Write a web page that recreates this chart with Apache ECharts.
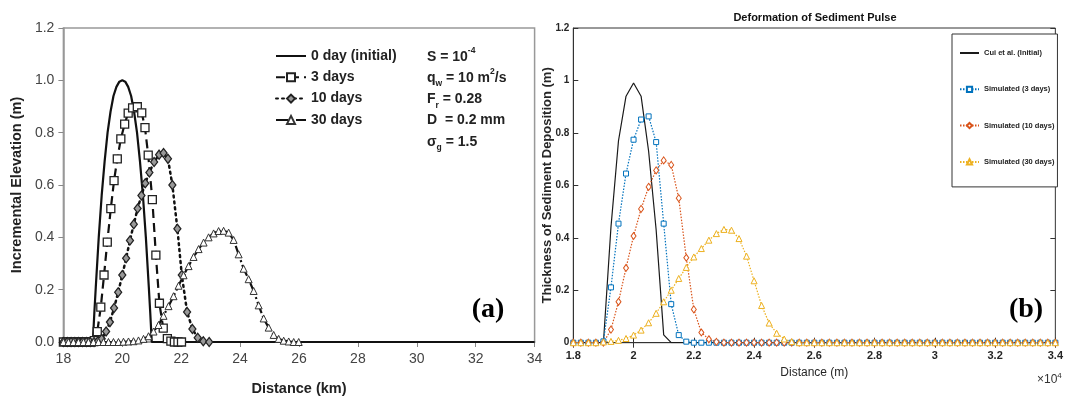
<!DOCTYPE html>
<html>
<head>
<meta charset="utf-8">
<script src="https://cdn.jsdelivr.net/npm/echarts@6/dist/echarts.min.js"></script>
<style>
html, body { margin: 0; padding: 0; background: #fff; }
#main { width: 1066px; height: 401px; }
</style>
</head>
<body>
<div id="main"></div>
<script>
// panel (a): published curves, distance in km
var day0Km = [18, 19, 19.05, 19.1, 19.2, 19.3, 19.4, 19.5, 19.6, 19.7, 19.8, 19.9, 20, 20.1, 20.2, 20.3, 20.4, 20.5, 20.6, 20.7, 20.8, 20.9, 20.95, 21, 34];
var day0Elev = [0, 0, 0.11, 0.21, 0.40, 0.56, 0.69, 0.80, 0.88, 0.94, 0.975, 0.995, 1.0, 0.995, 0.975, 0.94, 0.88, 0.80, 0.69, 0.56, 0.40, 0.21, 0.11, 0, 0];

var day3Km = [18, 18.12, 18.24, 18.36, 18.48, 18.6, 18.72, 18.84, 18.96, 19.05, 19.15, 19.27, 19.38, 19.49, 19.61, 19.72, 19.83, 19.95, 20.08, 20.2, 20.35, 20.51, 20.66, 20.77, 20.88, 21.02, 21.14, 21.26, 21.39, 21.53, 21.65, 21.77, 21.89, 22.01];
var day3Elev = [0, 0, 0, 0, 0, 0, 0, 0, 0, 0.005, 0.04, 0.133, 0.256, 0.382, 0.51, 0.617, 0.70, 0.776, 0.833, 0.875, 0.895, 0.899, 0.876, 0.819, 0.714, 0.544, 0.332, 0.148, 0.053, 0.013, 0.003, 0, 0, 0];

var day10Km = [18, 18.13, 18.26, 18.39, 18.52, 18.65, 18.78, 18.91, 19.04, 19.17, 19.3, 19.45, 19.58, 19.72, 19.86, 20, 20.13, 20.26, 20.39, 20.52, 20.65, 20.78, 20.92, 21.08, 21.25, 21.4, 21.55, 21.7, 21.87, 22.02, 22.2, 22.38, 22.56, 22.75, 22.95];
var day10Elev = [0, 0, 0, 0, 0, 0, 0, 0, 0, 0.003, 0.012, 0.04, 0.076, 0.13, 0.19, 0.256, 0.32, 0.388, 0.45, 0.51, 0.56, 0.607, 0.648, 0.688, 0.716, 0.722, 0.70, 0.60, 0.433, 0.256, 0.115, 0.05, 0.016, 0.003, 0];

var day30Km = [18, 18.17, 18.34, 18.51, 18.68, 18.85, 19.02, 19.19, 19.36, 19.53, 19.7, 19.87, 20.04, 20.21, 20.38, 20.55, 20.72, 20.89, 21.06, 21.23, 21.4, 21.57, 21.74, 21.91, 22.08, 22.25, 22.42, 22.59, 22.76, 22.93, 23.1, 23.27, 23.44, 23.61, 23.78, 23.95, 24.12, 24.29, 24.46, 24.63, 24.8, 24.97, 25.14, 25.31, 25.48, 25.65, 25.82, 25.99];
var day30Elev = [0, 0, 0, 0, 0, 0, 0, 0, 0, 0, 0, 0, 0.001, 0.002, 0.003, 0.006, 0.012, 0.022, 0.04, 0.065, 0.1, 0.137, 0.175, 0.215, 0.255, 0.29, 0.325, 0.355, 0.38, 0.4, 0.415, 0.424, 0.425, 0.418, 0.39, 0.335, 0.28, 0.24, 0.195, 0.14, 0.09, 0.055, 0.027, 0.012, 0.005, 0.002, 0, 0];

// panel (b): simulation, distance in m
var distM = [18000, 18250, 18500, 18750, 19000, 19250, 19500, 19750, 20000, 20250, 20500, 20750, 21000, 21250, 21500, 21750,
    22000, 22250, 22500, 22750, 23000, 23250, 23500, 23750, 24000, 24250, 24500, 24750, 25000, 25250, 25500, 25750,
    26000, 26250, 26500, 26750, 27000, 27250, 27500, 27750, 28000, 28250, 28500, 28750, 29000, 29250, 29500, 29750,
    30000, 30250, 30500, 30750, 31000, 31250, 31500, 31750, 32000, 32250, 32500, 32750, 33000, 33250, 33500, 33750, 34000];
var cuiInit = [0, 0, 0, 0, 0, 0.44, 0.77, 0.94, 0.99, 0.94, 0.73, 0.43, 0.03,
    0, 0, 0, 0, 0, 0, 0, 0, 0, 0,
    0, 0, 0, 0, 0, 0, 0, 0, 0, 0,
    0, 0, 0, 0, 0, 0, 0, 0, 0, 0,
    0, 0, 0, 0, 0, 0, 0, 0, 0, 0,
    0, 0, 0, 0, 0, 0, 0, 0, 0, 0,
    0, 0];
var sim3 = [0, 0, 0, 0, 0.005, 0.211, 0.454, 0.645, 0.774, 0.851, 0.863, 0.765, 0.454, 0.147, 0.029, 0.004,
    0, 0, 0, 0, 0, 0, 0, 0, 0, 0,
    0, 0, 0, 0, 0, 0, 0, 0, 0, 0,
    0, 0, 0, 0, 0, 0, 0, 0, 0, 0,
    0, 0, 0, 0, 0, 0, 0, 0, 0, 0,
    0, 0, 0, 0, 0, 0, 0, 0, 0];
var sim10 = [0, 0, 0, 0, 0, 0.05, 0.156, 0.285, 0.407, 0.51, 0.594, 0.657, 0.695, 0.678, 0.551, 0.324, 0.127, 0.039, 0.013, 0.003,
    0, 0, 0, 0, 0, 0, 0, 0, 0, 0,
    0, 0, 0, 0, 0, 0, 0, 0, 0, 0,
    0, 0, 0, 0, 0, 0, 0, 0, 0, 0,
    0, 0, 0, 0, 0, 0, 0, 0, 0, 0,
    0, 0, 0, 0, 0];
var sim30 = [0, 0, 0, 0, 0.003, 0.005, 0.009, 0.016, 0.029, 0.048, 0.076, 0.112, 0.156, 0.2, 0.245, 0.287, 0.327, 0.359, 0.391, 0.416,
    0.432, 0.429, 0.397, 0.33, 0.236, 0.142, 0.075, 0.036, 0.014, 0.004,
    0, 0, 0, 0, 0, 0, 0, 0, 0, 0,
    0, 0, 0, 0, 0, 0, 0, 0, 0, 0,
    0, 0, 0, 0, 0, 0, 0, 0, 0, 0,
    0, 0, 0, 0, 0];

var sans = '"Liberation Sans", Arial, Helvetica, sans-serif';
var serif = '"Liberation Serif", "Times New Roman", serif';

function pairs(xs, ys) {
    return xs.map(function (x, i) { return [x, ys[i]]; });
}

var chart = echarts.init(document.getElementById('main'), null, {renderer: 'canvas'});

var leftName = {fontFamily: sans, fontWeight: 'bold', fontSize: 14.5, color: '#222'};
var rightTicks = {show: true, inside: true, length: 5, lineStyle: {color: '#333'}};
var noSymbol = {color: 'rgba(0,0,0,0)', borderWidth: 0, opacity: 0};

var option = {
    animation: false,
    backgroundColor: '#fff',
    grid: [
        {left: 63.4, right: 531.4, top: 28, bottom: 57, show: true, borderColor: '#999', borderWidth: 1.5},
        {left: 573.3, right: 7, top: 28, bottom: 58.3, show: true, borderColor: '#333', borderWidth: 1}
    ],
    xAxis: [
        {
            gridIndex: 0, type: 'value', min: 18, max: 34, interval: 2,
            axisLine: {lineStyle: {color: '#999', width: 1.5}},
            axisTick: {length: 5, lineStyle: {color: '#888'}},
            splitLine: {show: false},
            axisLabel: {margin: 10, fontSize: 14, color: '#444', fontFamily: sans},
            name: 'Distance (km)', nameLocation: 'middle', nameGap: 39, nameMoveOverlap: false, nameTextStyle: leftName
        },
        {
            gridIndex: 1, type: 'value', min: 18000, max: 34000, interval: 2000,
            axisLine: {lineStyle: {color: '#333'}},
            axisTick: rightTicks,
            splitLine: {show: false},
            axisLabel: {
                margin: 8, fontSize: 11, fontWeight: 'bold', color: '#262626', fontFamily: sans,
                formatter: function (v) { return String(v / 10000); }
            },
            name: 'Distance (m)', nameLocation: 'middle', nameGap: 24, nameMoveOverlap: false,
            nameTextStyle: {fontFamily: sans, fontSize: 12, color: '#262626'}
        },
        {
            gridIndex: 1, type: 'value', position: 'top', min: 18000, max: 34000, interval: 2000,
            axisLine: {show: false}, axisTick: rightTicks, axisLabel: {show: false}, splitLine: {show: false}
        }
    ],
    yAxis: [
        {
            gridIndex: 0, type: 'value', min: 0, max: 1.2, interval: 0.2,
            axisLine: {show: true, lineStyle: {color: '#999', width: 1.5}},
            axisTick: {show: true, length: 5, lineStyle: {color: '#888'}},
            splitLine: {show: false},
            axisLabel: {margin: 9, fontSize: 14, color: '#444', fontFamily: sans,
                formatter: function (v) { return v.toFixed(1); }},
            name: 'Incremental Elevation (m)', nameLocation: 'middle', nameGap: 39, nameMoveOverlap: false, nameTextStyle: leftName
        },
        {
            gridIndex: 1, type: 'value', min: 0, max: 1.2, interval: 0.2,
            axisLine: {show: true, lineStyle: {color: '#333'}},
            axisTick: rightTicks,
            splitLine: {show: false},
            axisLabel: {margin: 4, fontSize: 10, fontWeight: 'bold', color: '#262626', fontFamily: sans},
            name: 'Thickness of Sediment Deposition (m)', nameLocation: 'middle', nameGap: 19, nameMoveOverlap: false,
            nameTextStyle: {fontFamily: sans, fontWeight: 'bold', fontSize: 13, color: '#262626'}
        },
        {
            gridIndex: 1, type: 'value', position: 'right', min: 0, max: 1.2, interval: 0.2,
            axisLine: {show: false}, axisTick: rightTicks, axisLabel: {show: false}, splitLine: {show: false}
        }
    ],
    legend: [
        {
            data: [{name: '0 day (initial)', itemStyle: noSymbol}, '3 days', '10 days', '30 days'],
            orient: 'vertical', left: 275, top: 49, padding: 0, itemWidth: 30, itemHeight: 10, itemGap: 7.3,
            textStyle: {fontFamily: sans, fontWeight: 'bold', fontSize: 14, lineHeight: 14, color: '#222'}
        },
        {
            data: [{name: 'Cui et al. (Initial)', itemStyle: noSymbol}, 'Simulated (3 days)', 'Simulated (10 days)', 'Simulated (30 days)'],
            orient: 'vertical', left: 952, top: 34, padding: [14, 3, 20, 7],
            itemWidth: 19, itemHeight: 6.5, itemGap: 26.3,
            backgroundColor: '#fff', borderColor: '#333', borderWidth: 1,
            textStyle: {fontFamily: sans, fontWeight: 'bold', fontSize: 7.5, color: '#222', lineHeight: 10}
        }
    ],
    series: [
        {
            name: '3 days', type: 'line', xAxisIndex: 0, yAxisIndex: 0,
            data: pairs(day3Km, day3Elev),
            symbol: 'rect', symbolSize: 8,
            itemStyle: {color: '#fff', borderColor: '#222', borderWidth: 1.3},
            lineStyle: {color: '#111', width: 2.2, type: [9, 5]}
        },
        {
            name: '10 days', type: 'line', xAxisIndex: 0, yAxisIndex: 0,
            data: pairs(day10Km, day10Elev),
            symbol: 'diamond', symbolSize: [7, 9],
            itemStyle: {color: '#999', borderColor: '#222', borderWidth: 1.3},
            lineStyle: {color: '#111', width: 2.5, type: [2, 4], cap: 'round'}
        },
        {
            name: '30 days', type: 'line', xAxisIndex: 0, yAxisIndex: 0,
            data: pairs(day30Km, day30Elev),
            symbol: 'triangle', symbolSize: 7,
            itemStyle: {color: '#fff', borderColor: '#333', borderWidth: 1},
            lineStyle: {color: '#111', width: 2.2, type: [12, 3, 2, 3]}
        },
        {
            name: '0 day (initial)', type: 'line', xAxisIndex: 0, yAxisIndex: 0,
            data: pairs(day0Km, day0Elev),
            symbol: 'none',
            lineStyle: {color: '#111', width: 2.2}
        },
        {
            name: 'Cui et al. (Initial)', type: 'line', xAxisIndex: 1, yAxisIndex: 1,
            data: pairs(distM, cuiInit),
            symbol: 'none',
            lineStyle: {color: '#1a1a1a', width: 1.2}
        },
        {
            name: 'Simulated (3 days)', type: 'line', xAxisIndex: 1, yAxisIndex: 1,
            data: pairs(distM, sim3),
            symbol: 'rect', symbolSize: 5,
            itemStyle: {color: '#fff', borderColor: '#0072BD', borderWidth: 1},
            lineStyle: {color: '#0072BD', width: 1.2, type: [1.5, 1.5]}
        },
        {
            name: 'Simulated (10 days)', type: 'line', xAxisIndex: 1, yAxisIndex: 1,
            data: pairs(distM, sim10),
            symbol: 'diamond', symbolSize: [5, 7],
            itemStyle: {color: '#fff', borderColor: '#D95319', borderWidth: 1},
            lineStyle: {color: '#D95319', width: 1.2, type: [1.5, 1.5]}
        },
        {
            name: 'Simulated (30 days)', type: 'line', xAxisIndex: 1, yAxisIndex: 1,
            data: pairs(distM, sim30),
            symbol: 'triangle', symbolSize: 6,
            itemStyle: {color: '#fff', borderColor: '#EDB120', borderWidth: 1},
            lineStyle: {color: '#EDB120', width: 1.2, type: [1.5, 1.5]}
        }
    ],
    graphic: [
        {
            type: 'text', x: 427, y: 46, z: 10,
            style: {
                text: '{a|S = 10}{sup|-4}\n{a|q}{sub|w}{a| = 10 m}{sup|2}{a|/s}\n{a|F}{sub|r}{a| = 0.28}\n{a|D  = 0.2 mm}\n{a|σ}{sub|g}{a| = 1.5}',
                fill: '#222',
                rich: {
                    a: {fontFamily: sans, fontWeight: 'bold', fontSize: 14, lineHeight: 21.3, fill: '#222'},
                    sup: {fontFamily: sans, fontWeight: 'bold', fontSize: 8.5, lineHeight: 12, verticalAlign: 'top', fill: '#222'},
                    sub: {fontFamily: sans, fontWeight: 'bold', fontSize: 8.5, lineHeight: 10, verticalAlign: 'bottom', fill: '#222'}
                }
            }
        },
        {
            type: 'text', x: 488, y: 310, z: 10,
            style: {text: '(a)', fontFamily: serif, fontWeight: 'bold', fontSize: 28,
                fill: '#000', align: 'center', verticalAlign: 'middle'}
        },
        {
            type: 'text', x: 1026, y: 310, z: 10,
            style: {text: '(b)', fontFamily: serif, fontWeight: 'bold', fontSize: 28,
                fill: '#000', align: 'center', verticalAlign: 'middle'}
        },
        {
            type: 'text', x: 815, y: 17.5, z: 10,
            style: {text: 'Deformation of Sediment Pulse', fontFamily: sans, fontWeight: 'bold', fontSize: 11,
                fill: '#111', align: 'center', verticalAlign: 'middle'}
        },
        {
            type: 'text', x: 1037, y: 372, z: 10,
            style: {
                text: '{a|×10}{s|4}',
                rich: {
                    a: {fontFamily: sans, fontSize: 12, lineHeight: 16, fill: '#333'},
                    s: {fontFamily: sans, fontSize: 8, lineHeight: 9, verticalAlign: 'top', fill: '#333'}
                }
            }
        }
    ]
};

chart.setOption(option);
</script>
</body>
</html>
